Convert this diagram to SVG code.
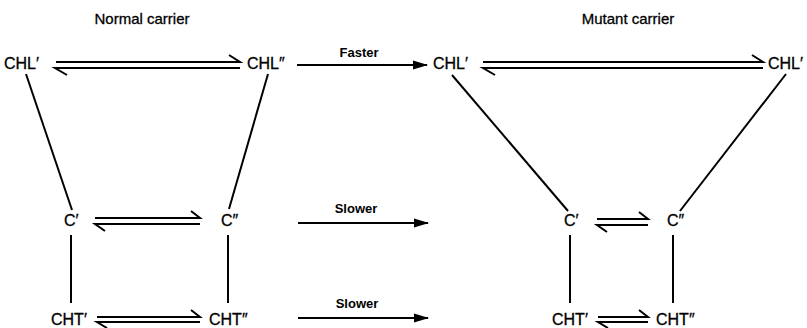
<svg xmlns="http://www.w3.org/2000/svg" width="807" height="328" viewBox="0 0 807 328">
<style>
text{font-family:"Liberation Sans",Arial,sans-serif;fill:#000}
.t{font-size:15px;stroke:#000;stroke-width:0.3}
.n{font-size:16px;stroke:#000;stroke-width:0.3}
.l{font-size:13px;font-weight:bold}
.c line,.c path{stroke:#000;stroke-width:2;fill:none}
</style>
<defs>
<marker id="ah" markerWidth="15" markerHeight="10" refX="14" refY="5" orient="auto" markerUnits="userSpaceOnUse">
<path d="M0,0.5 L15,5 L0,9.5 Z" fill="#000"/>
</marker>
</defs>
<rect width="807" height="328" fill="#fff"/>
<text class="t" x="142" y="24" text-anchor="middle">Normal carrier</text>
<text class="t" x="628" y="24" text-anchor="middle">Mutant carrier</text>
<g id="n-chl1"><text class="n" x="4" y="69">CHL′</text></g>
<g id="n-chl2"><text class="n" x="247" y="69">CHL″</text></g>
<g id="n-c1"><text class="n" x="64" y="226">C′</text></g>
<g id="n-c2"><text class="n" x="221" y="226">C″</text></g>
<g id="n-cht1"><text class="n" x="51" y="325">CHT′</text></g>
<g id="n-cht2"><text class="n" x="209" y="325">CHT″</text></g>
<g id="m-chl1"><text class="n" x="433" y="69">CHL′</text></g>
<g id="m-chl2"><text class="n" x="768" y="69">CHL′</text></g>
<g id="m-c1"><text class="n" x="564" y="226">C′</text></g>
<g id="m-c2"><text class="n" x="667" y="226">C″</text></g>
<g id="m-cht1"><text class="n" x="552" y="325">CHT′</text></g>
<g id="m-cht2"><text class="n" x="656" y="325">CHT″</text></g>
<g id="labels">
<text class="l" x="359" y="57" text-anchor="middle">Faster</text>
<text class="l" x="356" y="213" text-anchor="middle">Slower</text>
<text class="l" x="357" y="308" text-anchor="middle">Slower</text>
</g>
<g class="c" id="connectors">
<line x1="26" y1="74" x2="72" y2="210"/>
<line x1="268" y1="74" x2="229" y2="209"/>
<line x1="71" y1="235" x2="71" y2="303"/>
<line x1="228" y1="235" x2="228" y2="303"/>
<line x1="452" y1="75" x2="568" y2="211"/>
<line x1="786" y1="74" x2="680" y2="211"/>
<line x1="570" y1="235" x2="570" y2="303"/>
<line x1="673" y1="235" x2="673" y2="303"/>
<path d="M56,62 H240 L229,55 M240,68 H55 L67,75"/>
<path d="M483,62 H763 L752,55 M763,68 H483 L495,75"/>
<path d="M95,218 H200 L191,211 M200,224 H95 L105,231"/>
<path d="M597,219 H648 L639,212 M648,225 H597 L607,232"/>
<path d="M97,317 H200 L191,310 M200,322 H97 L107,328"/>
<path d="M598,317 H648 L639,310 M648,322 H598 L608,328"/>
<line x1="297" y1="65" x2="427" y2="65" marker-end="url(#ah)"/>
<line x1="298" y1="223" x2="428" y2="223" marker-end="url(#ah)"/>
<line x1="298" y1="318" x2="428" y2="318" marker-end="url(#ah)"/>
</g>
</svg>
